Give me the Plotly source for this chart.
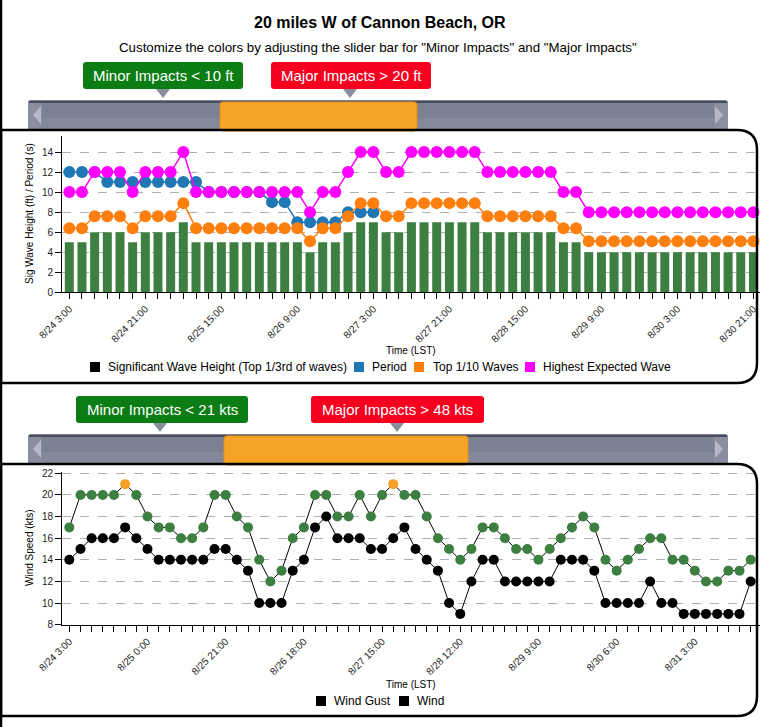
import pandas as pd
import plotly.graph_objects as go

# ---------------- data ----------------
location_title = "20 miles W of Cannon Beach, OR"
subtitle = 'Customize the colors by adjusting the slider bar for "Minor Impacts" and "Major Impacts"'

wave_times = pd.date_range("2024-08-24 03:00", periods=55, freq="3h")
wave_label_text = ["8/24 3:00", "8/24 21:00", "8/25 15:00", "8/26 9:00", "8/27 3:00",
                   "8/27 21:00", "8/28 15:00", "8/29 9:00", "8/30 3:00", "8/30 21:00"]

sig_wave_height = [5, 5, 6, 6, 6, 5, 6, 6, 6, 7, 5, 5, 5, 5, 5, 5, 5, 5, 5, 4, 5, 5, 6, 7, 7,
                   6, 6, 7, 7, 7, 7, 7, 7, 6, 6, 6, 6, 6, 6, 5, 5,
                   4, 4, 4, 4, 4, 4, 4, 4, 4, 4, 4, 4, 4, 4]
period = [12, 12, 12, 11, 11, 11, 11, 11, 11, 11, 11, 10, 10, 10, 10, 10, 9, 9, 7, 7, 7, 7, 8, 8, 8]
top_tenth = [6.4, 6.4, 7.6, 7.6, 7.6, 6.4, 7.6, 7.6, 7.6, 8.9, 6.4, 6.4, 6.4, 6.4, 6.4, 6.4, 6.4,
             6.4, 6.4, 5.1, 6.4, 6.4, 7.6, 8.9, 8.9,
             7.6, 7.6, 8.9, 8.9, 8.9, 8.9, 8.9, 8.9, 7.6, 7.6, 7.6, 7.6, 7.6, 7.6, 6.4, 6.4,
             5.1, 5.1, 5.1, 5.1, 5.1, 5.1, 5.1, 5.1, 5.1, 5.1, 5.1, 5.1, 5.1, 5.1]
highest_wave = [10, 10, 12, 12, 12, 10, 12, 12, 12, 14, 10, 10, 10, 10, 10, 10, 10, 10, 10, 8,
                10, 10, 12, 14, 14,
                12, 12, 14, 14, 14, 14, 14, 14, 12, 12, 12, 12, 12, 12, 10, 10,
                8, 8, 8, 8, 8, 8, 8, 8, 8, 8, 8, 8, 8, 8]

wind_times = pd.date_range("2024-08-24 03:00", periods=62, freq="3h")
wind_label_text = ["8/24 3:00", "8/25 0:00", "8/25 21:00", "8/26 18:00", "8/27 15:00",
                   "8/28 12:00", "8/29 9:00", "8/30 6:00", "8/31 3:00"]
wind_gust = [17, 20, 20, 20, 20, 21, 20, 18, 17, 17, 16, 16, 17, 20, 20, 18, 17, 14, 12, 13,
             16, 17, 20, 20, 18, 18, 20, 18,
             20, 21, 20, 20, 18, 16, 15, 14, 15, 17, 17, 16, 15, 15, 14, 15, 16, 17, 18, 17,
             14, 13, 14, 15, 16, 16, 14, 14, 13, 12, 12, 13, 13, 14]
wind_speed = [14, 15, 16, 16, 16, 17, 16, 15, 14, 14, 14, 14, 14, 15, 15, 14, 13, 10, 10, 10,
              13, 14, 17, 18, 16, 16, 16, 15,
              15, 16, 17, 15, 14, 13, 10, 9, 12, 14, 14, 12, 12, 12, 12, 12, 14, 14, 14, 13,
              10, 10, 10, 10, 12, 10, 10, 9, 9, 9, 9, 9, 9, 12]

wave_minor, wave_major = 10, 20
wind_minor, wind_major = 21, 48

wave_legend = ["Significant Wave Height (Top 1/3rd of waves)", "Period", "Top 1/10 Waves",
               "Highest Expected Wave"]
wind_legend = ["Wind Gust", "Wind"]

# ---------------- styling ----------------
W, H = 760, 727
FONT = "Liberation Sans, Arial, Helvetica, sans-serif"
GREEN = "#3d7e41"
ORANGE_HI = "#f7a12a"
BLUE = "#1f77b4"
ORANGE = "#ff7f0e"
MAGENTA = "#ff00ff"


def X(px):
    return px / W


def Y(py):
    return 1 - py / H


def pt(px, py):
    return f"{X(px):.5f},{Y(py):.5f}"


def rrect(x0, y0, x1, y1, r):
    return (f"M {pt(x0 + r, y0)} L {pt(x1 - r, y0)} Q {pt(x1, y0)} {pt(x1, y0 + r)} "
            f"L {pt(x1, y1 - r)} Q {pt(x1, y1)} {pt(x1 - r, y1)} L {pt(x0 + r, y1)} "
            f"Q {pt(x0, y1)} {pt(x0, y1 - r)} L {pt(x0, y0 + r)} Q {pt(x0, y0)} {pt(x0 + r, y0)} Z")


def panel(x0, y0, x1, y1, r):
    return (f"M {pt(x0, y0)} L {pt(x1 - r, y0)} Q {pt(x1, y0)} {pt(x1, y0 + r)} "
            f"L {pt(x1, y1 - r)} Q {pt(x1, y1)} {pt(x1 - r, y1)} L {pt(x0, y1)} Z")


def bar_color(v):
    if v > wave_major:
        return "#f70020"
    if v < wave_minor:
        return GREEN
    return ORANGE_HI


def gust_color(v):
    if v > wind_major:
        return "#f70020"
    if v < wind_minor:
        return GREEN
    return ORANGE_HI


fig = go.Figure()

# wave chart
fig.add_trace(go.Bar(x=wave_times, y=sig_wave_height, marker=dict(color=[bar_color(v) for v in sig_wave_height], line_width=0),
                     name=wave_legend[0], xaxis="x", yaxis="y"))
fig.add_trace(go.Scatter(x=wave_times[:len(period)], y=period, mode="lines+markers", name=wave_legend[1],
                         line=dict(color=BLUE, width=1.5), marker=dict(size=12, color=BLUE),
                         xaxis="x", yaxis="y"))
fig.add_trace(go.Scatter(x=wave_times, y=top_tenth, mode="lines+markers", name=wave_legend[2],
                         line=dict(color=ORANGE, width=1.5), marker=dict(size=12, color=ORANGE),
                         xaxis="x", yaxis="y"))
fig.add_trace(go.Scatter(x=wave_times, y=highest_wave, mode="lines+markers", name=wave_legend[3],
                         line=dict(color=MAGENTA, width=1.5), marker=dict(size=12, color=MAGENTA),
                         xaxis="x", yaxis="y"))

# wind chart
fig.add_trace(go.Scatter(x=wind_times, y=wind_gust, mode="lines+markers", name=wind_legend[0],
                         line=dict(color="black", width=1),
                         marker=dict(size=10, color=[gust_color(v) for v in wind_gust]),
                         xaxis="x2", yaxis="y2"))
fig.add_trace(go.Scatter(x=wind_times, y=wind_speed, mode="lines+markers", name=wind_legend[1],
                         line=dict(color="black", width=1), marker=dict(size=10, color="black"),
                         xaxis="x2", yaxis="y2"))

wave_ticktext = []
k = 0
for i in range(len(wave_times)):
    if i % 6 == 0:
        wave_ticktext.append(wave_label_text[k]); k += 1
    else:
        wave_ticktext.append("")
wind_ticktext = []
k = 0
for i in range(len(wind_times)):
    if i % 7 == 0:
        wind_ticktext.append(wind_label_text[k]); k += 1
    else:
        wind_ticktext.append("")

t0 = wave_times[0]
xcommon = dict(type="date", tickmode="array", tickangle=-45, ticks="outside", ticklen=6,
               tickcolor="black", tickwidth=1, showline=True, linecolor="black", linewidth=1,
               showgrid=False, zeroline=False, automargin=False,
               tickfont=dict(family=FONT, size=10, color="#222"))
ycommon = dict(tickmode="linear", dtick=2, ticks="outside", ticklen=6, tickcolor="black",
               showline=True, linecolor="black", linewidth=1, showgrid=True,
               gridcolor="#b0b0b0", griddash="dash", gridwidth=1, zeroline=False,
               automargin=False, tickfont=dict(family=FONT, size=10, color="#222"))

fig.update_layout(
    width=W, height=H, margin=dict(l=0, r=0, t=0, b=0), autosize=False,
    paper_bgcolor="white", plot_bgcolor="white", showlegend=False, bargap=0.29,
    font=dict(family=FONT, color="black"),
    xaxis=dict(xcommon, domain=[X(62), 1], anchor="y", tickvals=list(wave_times), ticktext=wave_ticktext,
               range=[t0 + pd.Timedelta(hours=-1.73), t0 + pd.Timedelta(hours=163.55)]),
    yaxis=dict(ycommon, domain=[Y(292.3), Y(136)], anchor="x", range=[0, 15.6], tick0=0),
    xaxis2=dict(xcommon, domain=[X(62), 1], anchor="y2", tickvals=list(wind_times), ticktext=wind_ticktext,
                range=[t0 + pd.Timedelta(hours=-1.96), t0 + pd.Timedelta(hours=185.5)]),
    yaxis2=dict(ycommon, domain=[Y(624.7), Y(471.5)], anchor="x2", range=[8, 22.17], tick0=8),
)

shapes = []
ann = []


def text(px, py, s, size=12, color="black", xanchor="center", bold=False, angle=0):
    ann.append(dict(x=X(px), y=Y(py), xref="paper", yref="paper", text=(f"<b>{s}</b>" if bold else s),
                    showarrow=False, xanchor=xanchor, yanchor="middle", textangle=angle,
                    font=dict(family=FONT, size=size, color=color)))


def slider(top, ox0, ox1):
    b = top + 31
    shapes.append(dict(type="path", path=rrect(28, top, 728, b, 3), fillcolor="#7b8092", line_width=0, layer="above"))
    shapes.append(dict(type="rect", xref="paper", yref="paper", x0=X(29), x1=X(727), y0=Y(top + 1), y1=Y(top + 3),
                       fillcolor="#4a4e5c", line_width=0))
    shapes.append(dict(type="rect", xref="paper", yref="paper", x0=X(28), x1=X(728), y0=Y(top + 18), y1=Y(b),
                       fillcolor="#848999", line_width=0))
    for cx0, cx1 in [(28, 42), (714, 728)]:
        shapes.append(dict(type="rect", xref="paper", yref="paper", x0=X(cx0), x1=X(cx1), y0=Y(top + 3), y1=Y(b),
                           fillcolor="#8a8e9e", line_width=0))
    shapes.append(dict(type="path", path=f"M {pt(41, top + 6)} L {pt(41, top + 24)} L {pt(33, top + 15)} Z",
                       fillcolor="#b6b9c5", line_width=0))
    shapes.append(dict(type="path", path=f"M {pt(715, top + 6)} L {pt(715, top + 24)} L {pt(723, top + 15)} Z",
                       fillcolor="#b6b9c5", line_width=0))
    shapes.append(dict(type="path", path=rrect(ox0, top + 2, ox1, b, 3), fillcolor="#f7a325",
                       line=dict(color="#e2901a", width=1)))


def label_box(x0, x1, top, tri_x, s, color):
    shapes.append(dict(type="path", path=rrect(x0, top, x1, top + 27, 3), fillcolor=color, line_width=0))
    shapes.append(dict(type="path", path=f"M {pt(tri_x - 7, top + 27)} L {pt(tri_x + 7, top + 27)} L {pt(tri_x, top + 36)} Z",
                       fillcolor="#8a8e9c", line_width=0))
    text((x0 + x1) / 2, top + 13.5, s, size=15, color="white")


# header
text(380, 22, location_title, size=16, bold=True)
text(378, 48, subtitle, size=13.3)

# wave slider + labels
label_box(83, 243, 62, 163, f"Minor Impacts &lt; {wave_minor} ft", "#0b7d14")
label_box(271, 431, 62, 350, f"Major Impacts &gt; {wave_major} ft", "#f7001f")
slider(100, 220, 417)

# wind slider + labels
label_box(76, 248, 396, 160, f"Minor Impacts &lt; {wind_minor} kts", "#0b7d14")
label_box(311, 484, 396, 397, f"Major Impacts &gt; {wind_major} kts", "#f7001f")
slider(434, 224, 468)

# panels
shapes.append(dict(type="path", path=panel(1, 130, 757, 383, 20), line=dict(color="black", width=2.5)))
shapes.append(dict(type="path", path=panel(1, 464, 757, 716, 20), line=dict(color="black", width=2.5)))
shapes.append(dict(type="line", xref="paper", yref="paper", x0=X(1), x1=X(1), y0=0, y1=1,
                   line=dict(color="black", width=2.5)))

# axis titles
text(29, 214, "Sig Wave Height (ft) / Period (s)", size=10, angle=-90)
text(411, 350, "Time (LST)", size=10)
text(29, 548, "Wind Speed (kts)", size=10, angle=-90)
text(411, 684, "Time (LST)", size=10)

# legends
wave_leg_colors = ["black", BLUE, ORANGE, MAGENTA]
wave_leg_sq = [90, 354, 414, 525]
wave_leg_tx = [106, 369.5, 431, 541]
for lbl, c, sx, tx in zip(wave_legend, wave_leg_colors, wave_leg_sq, wave_leg_tx):
    shapes.append(dict(type="rect", xref="paper", yref="paper", x0=X(sx), x1=X(sx + 10), y0=Y(372), y1=Y(362),
                       fillcolor=c, line_width=0))
    text(tx, 367, lbl, size=12, xanchor="left")

wind_leg_sq = [316, 399]
wind_leg_tx = [332, 415]
for lbl, sx, tx in zip(wind_legend, wind_leg_sq, wind_leg_tx):
    shapes.append(dict(type="rect", xref="paper", yref="paper", x0=X(sx), x1=X(sx + 10), y0=Y(706), y1=Y(696),
                       fillcolor="black", line_width=0))
    text(tx, 701, lbl, size=12, xanchor="left")

for s in shapes:
    s.setdefault("xref", "paper")
    s.setdefault("yref", "paper")
fig.update_layout(shapes=shapes, annotations=ann)

# remove the default page margin so the 760x727 figure fills the window
fig.write_html("out.html", config={"displayModeBar": False},
               post_script="document.body.style.margin='0';document.body.style.overflow='hidden';")
